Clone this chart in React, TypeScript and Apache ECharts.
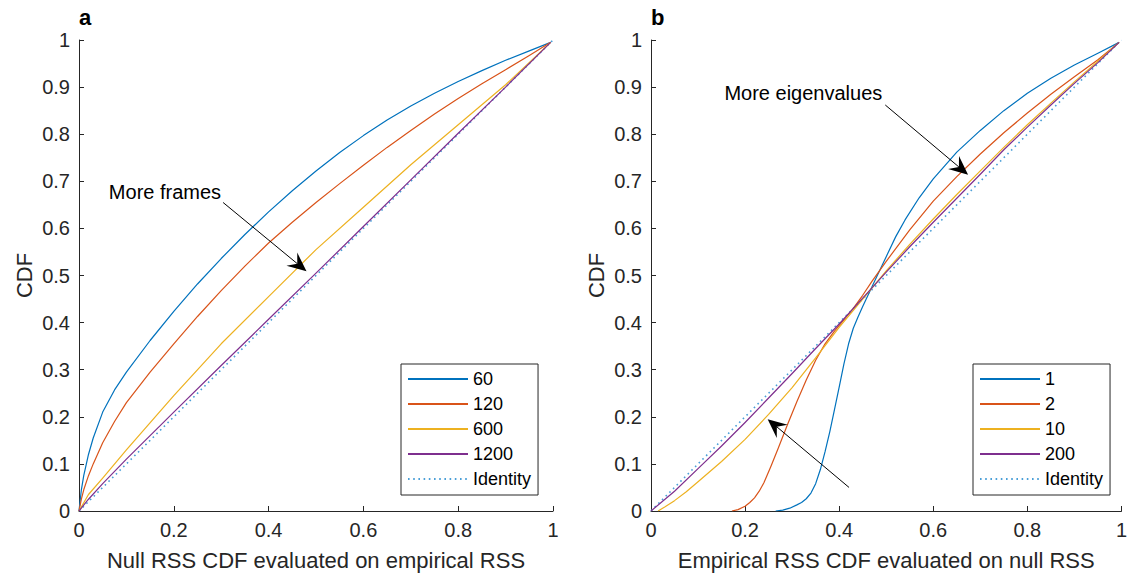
import React, { useEffect, useRef } from 'react';
import * as echarts from 'echarts';

const FONT = '"Liberation Sans", Arial, Helvetica, sans-serif';
const AXIS_COLOR = '#262626';
const COLORS = ['#0072BD', '#D95319', '#EDB120', '#7E2F8E'];
const IDENTITY_COLOR = '#4A9FD8';

// Panel a: Null RSS CDF evaluated on empirical RSS
const framesLabels = ['60', '120', '600', '1200'];
const xA = [0, 0.005, 0.01, 0.02, 0.03, 0.05, 0.075, 0.1, 0.15, 0.2, 0.25, 0.3, 0.35, 0.4, 0.45, 0.5, 0.55, 0.6, 0.65, 0.7, 0.75, 0.8, 0.85, 0.9, 0.95, 0.995];
const frames60 = [0, 0.045, 0.075, 0.12, 0.155, 0.21, 0.257, 0.295, 0.362, 0.424, 0.482, 0.536, 0.587, 0.635, 0.68, 0.722, 0.761, 0.797, 0.83, 0.86, 0.887, 0.912, 0.935, 0.957, 0.977, 0.995];
const frames120 = [0, 0.025, 0.045, 0.075, 0.1, 0.145, 0.19, 0.23, 0.295, 0.355, 0.413, 0.468, 0.52, 0.569, 0.613, 0.655, 0.695, 0.734, 0.772, 0.808, 0.843, 0.876, 0.907, 0.937, 0.967, 0.995];
const xA2 = [0, 0.02, 0.05, 0.1, 0.2, 0.3, 0.4, 0.5, 0.6, 0.7, 0.8, 0.9, 0.995];
const frames600 = [0, 0.035, 0.07, 0.13, 0.245, 0.355, 0.455, 0.555, 0.645, 0.735, 0.82, 0.905, 0.995];
const frames1200 = [0, 0.025, 0.058, 0.11, 0.21, 0.309, 0.407, 0.505, 0.604, 0.703, 0.802, 0.9, 0.995];

// Panel b: Empirical RSS CDF evaluated on null RSS
const eigLabels = ['1', '2', '10', '200'];
const eig1X = [0.265, 0.28, 0.295, 0.31, 0.32, 0.33, 0.34, 0.35, 0.36, 0.37, 0.38, 0.39, 0.4, 0.41, 0.42, 0.43, 0.44, 0.45, 0.465, 0.48, 0.5, 0.52, 0.54, 0.57, 0.6, 0.65, 0.7, 0.75, 0.8, 0.85, 0.9, 0.95, 0.995];
const eig1Y = [0, 0.002, 0.006, 0.013, 0.018, 0.026, 0.038, 0.058, 0.088, 0.126, 0.168, 0.215, 0.263, 0.312, 0.355, 0.388, 0.412, 0.434, 0.466, 0.498, 0.54, 0.582, 0.618, 0.665, 0.705, 0.762, 0.808, 0.85, 0.887, 0.919, 0.947, 0.972, 0.995];
const eig2X = [0.172, 0.185, 0.2, 0.21, 0.22, 0.23, 0.24, 0.255, 0.27, 0.29, 0.31, 0.33, 0.35, 0.37, 0.39, 0.41, 0.43, 0.45, 0.47, 0.5, 0.55, 0.6, 0.65, 0.7, 0.75, 0.8, 0.85, 0.9, 0.95, 0.995];
const eig2Y = [0, 0.003, 0.01, 0.018, 0.028, 0.042, 0.06, 0.095, 0.132, 0.183, 0.232, 0.278, 0.32, 0.355, 0.382, 0.406, 0.43, 0.458, 0.488, 0.53, 0.597, 0.658, 0.71, 0.758, 0.803, 0.845, 0.885, 0.922, 0.958, 0.995];
const eig10X = [0.015, 0.03, 0.05, 0.075, 0.1, 0.15, 0.2, 0.25, 0.3, 0.35, 0.4, 0.45, 0.5, 0.55, 0.6, 0.65, 0.7, 0.75, 0.8, 0.85, 0.9, 0.95, 0.995];
const eig10Y = [0, 0.009, 0.022, 0.041, 0.062, 0.105, 0.152, 0.205, 0.262, 0.325, 0.39, 0.45, 0.51, 0.566, 0.62, 0.672, 0.722, 0.772, 0.82, 0.866, 0.911, 0.955, 0.995];
const eig200X = [0, 0.05, 0.1, 0.15, 0.2, 0.25, 0.3, 0.35, 0.4, 0.45, 0.5, 0.55, 0.6, 0.65, 0.7, 0.75, 0.8, 0.85, 0.9, 0.95, 0.995];
const eig200Y = [0, 0.042, 0.09, 0.138, 0.188, 0.24, 0.292, 0.345, 0.397, 0.452, 0.507, 0.561, 0.613, 0.664, 0.715, 0.767, 0.815, 0.862, 0.908, 0.952, 0.995];

const identityX = [0, 1];
const identityY = [0, 1];

const xTitles = ['Null RSS CDF evaluated on empirical RSS', 'Empirical RSS CDF evaluated on null RSS'];
const panelTags = ['a', 'b'];

// annotations in data coordinates of each panel
const annotations = [
  { grid: 0, text: 'More frames', textAt: [0.063, 0.678], from: [0.304, 0.655], to: [0.48, 0.509] },
  { grid: 1, text: 'More eigenvalues', textAt: [0.156, 0.888], from: [0.498, 0.862], to: [0.674, 0.714] },
  { grid: 1, text: '', textAt: [0, 0], from: [0.421, 0.05], to: [0.248, 0.195] },
];

const zip = (xs: number[], ys: number[]) => xs.map((x, i) => [x, ys[i]]);

function lineSeries(name: string, xs: number[], ys: number[], color: string, idx: number, dotted = false) {
  return {
    type: 'line',
    name,
    xAxisIndex: idx,
    yAxisIndex: idx,
    data: zip(xs, ys),
    showSymbol: false,
    symbol: 'none',
    smooth: false,
    color,
    lineStyle: dotted
      ? { color, width: 1.6, type: [1.6, 3.6], cap: 'butt' }
      : { color, width: 1.2, join: 'round' },
    z: dotted ? 1 : 2,
  };
}

function makeAxisX(idx: number) {
  return {
    type: 'value',
    gridIndex: idx,
    min: 0,
    max: 1,
    interval: 0.2,
    name: xTitles[idx],
    nameLocation: 'middle',
    nameGap: 38,
    nameTextStyle: { fontSize: 22, color: AXIS_COLOR, fontFamily: FONT },
    axisLine: { show: true, onZero: false, lineStyle: { color: AXIS_COLOR, width: 1 } },
    axisTick: { show: true, inside: true, length: 5, lineStyle: { color: AXIS_COLOR } },
    axisLabel: { fontSize: 20, color: AXIS_COLOR, fontFamily: FONT, margin: 9 },
    splitLine: { show: false },
  };
}

function makeAxisY(idx: number) {
  return {
    type: 'value',
    gridIndex: idx,
    min: 0,
    max: 1,
    interval: 0.1,
    name: 'CDF',
    nameLocation: 'middle',
    nameGap: 44,
    nameTextStyle: { fontSize: 22, color: AXIS_COLOR, fontFamily: FONT },
    axisLine: { show: true, onZero: false, lineStyle: { color: AXIS_COLOR, width: 1 } },
    axisTick: { show: true, inside: true, length: 5, lineStyle: { color: AXIS_COLOR } },
    axisLabel: { fontSize: 20, color: AXIS_COLOR, fontFamily: FONT, margin: 9 },
    splitLine: { show: false },
  };
}

function makeLegend(left: number, names: string[]) {
  return {
    orient: 'vertical',
    left,
    top: 364,
    padding: [6, 7, 7, 6],
    itemGap: 7,
    itemWidth: 60,
    itemHeight: 14,
    backgroundColor: '#ffffff',
    borderColor: AXIS_COLOR,
    borderWidth: 1,
    borderRadius: 0,
    selectedMode: false,
    itemStyle: { color: 'transparent', borderWidth: 0, opacity: 0 },
    textStyle: { fontSize: 18, color: '#000', fontFamily: FONT, padding: [0, 0, 0, 0] },
    data: names,
  };
}

function arrowGraphics(p0: number[], p1: number[]) {
  const dx = p1[0] - p0[0];
  const dy = p1[1] - p0[1];
  const len = Math.sqrt(dx * dx + dy * dy);
  const ux = dx / len;
  const uy = dy / len;
  const nx = -uy;
  const ny = ux;
  const L = 19;
  const W = 8.5;
  const notch = 12;
  const bx = p1[0] - L * ux;
  const by = p1[1] - L * uy;
  const nxp = p1[0] - notch * ux;
  const nyp = p1[1] - notch * uy;
  return [
    {
      type: 'line',
      shape: { x1: p0[0], y1: p0[1], x2: nxp, y2: nyp },
      style: { stroke: '#000', lineWidth: 1 },
      z: 100,
    },
    {
      type: 'polygon',
      shape: {
        points: [
          [p1[0], p1[1]],
          [bx + W * nx, by + W * ny],
          [nxp, nyp],
          [bx - W * nx, by - W * ny],
        ],
      },
      style: { fill: '#000' },
      z: 100,
    },
  ];
}

export default function App() {
  const ref = useRef<HTMLDivElement>(null);

  useEffect(() => {
    if (!ref.current) return;
    const chart = echarts.init(ref.current, undefined, { renderer: 'svg' });

    const series = [
      lineSeries(framesLabels[0], xA, frames60, COLORS[0], 0),
      lineSeries(framesLabels[1], xA, frames120, COLORS[1], 0),
      lineSeries(framesLabels[2], xA2, frames600, COLORS[2], 0),
      lineSeries(framesLabels[3], xA2, frames1200, COLORS[3], 0),
      lineSeries('Identity', identityX, identityY, IDENTITY_COLOR, 0, true),
      lineSeries(eigLabels[0], eig1X, eig1Y, COLORS[0], 1),
      lineSeries(eigLabels[1], eig2X, eig2Y, COLORS[1], 1),
      lineSeries(eigLabels[2], eig10X, eig10Y, COLORS[2], 1),
      lineSeries(eigLabels[3], eig200X, eig200Y, COLORS[3], 1),
      lineSeries('Identity', identityX, identityY, IDENTITY_COLOR, 1, true),
    ];

    chart.setOption({
      animation: false,
      backgroundColor: '#ffffff',
      textStyle: { fontFamily: FONT },
      title: [
        { text: panelTags[0], left: 79, top: 6, textStyle: { fontSize: 22, fontWeight: 'bold', color: '#000', fontFamily: FONT }, padding: 0 },
        { text: panelTags[1], left: 651, top: 6, textStyle: { fontSize: 22, fontWeight: 'bold', color: '#000', fontFamily: FONT }, padding: 0 },
      ],
      grid: [
        { left: 79, top: 40, width: 474, height: 472, containLabel: false },
        { left: 651, top: 40, width: 473, height: 472, containLabel: false },
      ],
      xAxis: [makeAxisX(0), makeAxisX(1)],
      yAxis: [makeAxisY(0), makeAxisY(1)],
      legend: [
        makeLegend(401, [...framesLabels, 'Identity']),
        makeLegend(973, [...eigLabels, 'Identity']),
      ],
      series,
    });

    const graphics: any[] = [];
    annotations.forEach((a) => {
      const from = chart.convertToPixel({ gridIndex: a.grid } as any, a.from) as number[];
      const to = chart.convertToPixel({ gridIndex: a.grid } as any, a.to) as number[];
      graphics.push(...arrowGraphics(from, to));
      if (a.text) {
        const tp = chart.convertToPixel({ gridIndex: a.grid } as any, a.textAt) as number[];
        graphics.push({
          type: 'text',
          x: tp[0],
          y: tp[1],
          z: 100,
          style: { text: a.text, fontSize: 20, fontFamily: FONT, fill: '#000', align: 'left', verticalAlign: 'middle' },
        });
      }
    });
    chart.setOption({ graphic: graphics });

    return () => chart.dispose();
  }, []);

  return <div ref={ref} style={{ position: 'fixed', left: 0, top: 0, width: 1130, height: 576 }} />;
}
